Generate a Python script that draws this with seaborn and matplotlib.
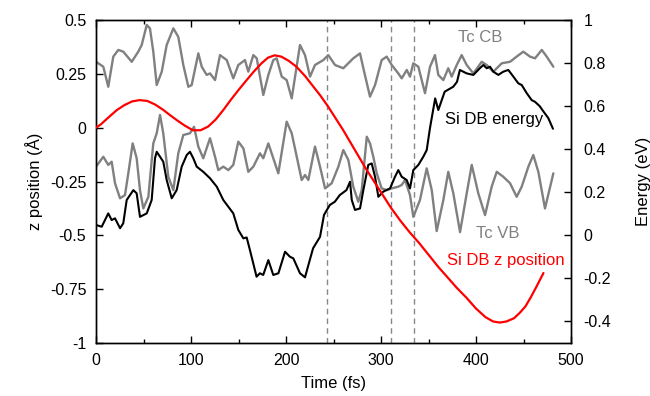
import matplotlib
matplotlib.use("Agg")
import matplotlib.pyplot as plt
import numpy as np
import pandas as pd
import seaborn as sns
from matplotlib.ticker import MultipleLocator

# Tc CB (conduction band edge), energy in eV
cb_time = [0, 7.7, 12.9, 18.2, 23.5, 28.7, 37.6, 44.5, 48.1, 53.4, 56.8, 60.3, 63.9, 69.2,
           74.4, 81.4, 86.6, 91.9, 97.2, 100.7, 107.7, 111.3, 116.5, 120, 125.3, 130.5,
           137.6, 144.5, 149.8, 156.8, 160.3, 165.6, 169.2, 176.1, 181.4, 186.6, 190.2,
           195.5, 200.7, 206, 214.7, 220, 225.3, 230.5, 239.3, 244.5, 251.6, 260.3, 270.8,
           277.9, 281.4, 288.4, 293.7, 300.7, 306, 311.3, 318.2, 321.8, 327.1, 330.5, 334,
           339.3, 346.3, 351.6, 356.8, 360.3, 365.6, 370.8, 374.4, 379.7, 384.9, 390.2,
           397.2, 406, 411.3, 418.2, 427.1, 435.8, 442.8, 449.8, 456.8, 462.1, 469.2,
           474.4, 481.4]
cb_energy = [0.806, 0.783, 0.690, 0.830, 0.861, 0.853, 0.806, 0.853, 0.884, 0.977, 0.961,
             0.853, 0.698, 0.760, 0.884, 0.961, 0.922, 0.791, 0.690, 0.698, 0.845, 0.783,
             0.745, 0.752, 0.721, 0.837, 0.814, 0.729, 0.791, 0.814, 0.760, 0.837, 0.822,
             0.652, 0.745, 0.814, 0.822, 0.737, 0.721, 0.636, 0.884, 0.837, 0.737, 0.791,
             0.814, 0.837, 0.791, 0.776, 0.822, 0.845, 0.776, 0.644, 0.698, 0.814, 0.830,
             0.791, 0.752, 0.729, 0.768, 0.737, 0.799, 0.783, 0.660, 0.783, 0.837, 0.745,
             0.721, 0.776, 0.737, 0.791, 0.837, 0.791, 0.752, 0.806, 0.791, 0.760, 0.799,
             0.806, 0.830, 0.853, 0.830, 0.822, 0.861, 0.830, 0.783]

# Tc VB (valence band edge), energy in eV
vb_time = [0, 7.7, 12.9, 16.5, 20, 25.3, 30.5, 34, 38.6, 42.8, 46.3, 49.8, 55.1, 60.3,
           63.9, 67.4, 70.8, 76.1, 81.4, 86.6, 91.9, 98.9, 103.2, 107.7, 112.9, 120,
           125.3, 128.7, 134, 139.3, 144.5, 149.8, 155.1, 160.3, 165.6, 172.6, 176.1,
           181.4, 186.6, 191.9, 200.7, 206, 211.3, 216.5, 220, 223.5, 230.5, 235.8, 241.1,
           248.1, 255.1, 260.3, 265.6, 270.8, 276.1, 279.7, 285, 288.4, 291.9, 295.5,
           300.7, 306, 311.3, 318.2, 321.8, 325.3, 330.5, 334, 341, 348.1, 353.4, 358.6,
           365.6, 370.8, 376.1, 383.2, 390.2, 395.5, 402.4, 409.5, 416.5, 421.8, 428.7,
           435.8, 442.8, 448.1, 455.1, 460.3, 465.6, 472.6, 481.4]
vb_energy = [0.319, 0.365, 0.327, 0.342, 0.242, 0.172, 0.187, 0.288, 0.427, 0.358, 0.210,
             0.125, 0.179, 0.427, 0.474, 0.559, 0.474, 0.272, 0.210, 0.381, 0.466, 0.474,
             0.504, 0.412, 0.358, 0.451, 0.365, 0.303, 0.319, 0.303, 0.327, 0.435, 0.404,
             0.295, 0.319, 0.381, 0.358, 0.427, 0.358, 0.288, 0.528, 0.474, 0.365, 0.257,
             0.280, 0.257, 0.412, 0.319, 0.218, 0.242, 0.319, 0.396, 0.350, 0.226, 0.156,
             0.210, 0.458, 0.427, 0.365, 0.288, 0.218, 0.210, 0.218, 0.226, 0.234, 0.257,
             0.187, 0.086, 0.164, 0.311, 0.210, 0.020, 0.164, 0.295, 0.195, 0.015, 0.195,
             0.327, 0.195, 0.094, 0.226, 0.295, 0.272, 0.242, 0.179, 0.226, 0.319, 0.373,
             0.295, 0.125, 0.288]

# Si DB energy, eV
db_time = [0, 6, 12.9, 16.5, 20, 25.3, 28.7, 32.3, 35.8, 39.3, 42.8, 46.3, 53.4, 58.6,
           62.1, 63.9, 67.4, 70.8, 74.4, 79.7, 84.9, 90.2, 95.5, 98.9, 102.4, 106, 112.9,
           120, 127.1, 134, 144.5, 149.8, 155.1, 158.6, 162, 169, 172.5, 176, 181.4, 186.6,
           192, 199, 204, 207.7, 214.7, 220, 225, 228.5, 235.8, 240, 246.1, 251.4, 256.6,
           263.6, 267.4, 269.2, 272.6, 277.9, 281.4, 286.6, 290.2, 293.7, 297.2, 302.4,
           309.5, 314.7, 318.2, 321.8, 327, 330.5, 334, 339.3, 344.5, 348.1, 351.6, 357,
           360.3, 367, 376, 380, 383, 390.2, 397.2, 404, 407.7, 411.3, 414.7, 418.2, 423.5,
           428.7, 434, 439.3, 444.5, 448.1, 453.4, 458.6, 462.1, 467, 471, 476, 481]
db_energy = [0.048, 0.040, 0.102, 0.071, 0.079, 0.033, 0.056, 0.164, 0.187, 0.210, 0.195,
             0.086, 0.102, 0.164, 0.358, 0.388, 0.365, 0.342, 0.257, 0.172, 0.210, 0.319,
             0.373, 0.388, 0.358, 0.319, 0.295, 0.265, 0.226, 0.164, 0.102, 0.025, -0.014,
             -0.010, -0.068, -0.192, -0.176, -0.184, -0.115, -0.184, -0.176, -0.076, -0.099,
             -0.107, -0.176, -0.195, -0.115, -0.060, -0.007, 0.095, 0.141, 0.156, 0.187,
             0.210, 0.249, 0.164, 0.118, 0.125, 0.210, 0.327, 0.334, 0.272, 0.179, 0.203,
             0.218, 0.272, 0.303, 0.272, 0.257, 0.218, 0.303, 0.327, 0.365, 0.396, 0.500,
             0.636, 0.582, 0.667, 0.690, 0.713, 0.768, 0.752, 0.745, 0.776, 0.791, 0.776,
             0.783, 0.760, 0.745, 0.760, 0.768, 0.737, 0.706, 0.698, 0.660, 0.628, 0.620,
             0.600, 0.575, 0.545, 0.495]

# Si DB z position, Angstrom
z_time = [0, 5, 10, 15, 22, 30, 38, 46, 54, 62, 70, 78, 86, 94, 102, 110, 118, 126, 134,
          142, 150, 158, 166, 174, 181, 188, 195, 203, 211, 220, 228, 236, 244, 252, 260,
          268, 276, 284, 292, 300, 310, 320, 330, 340, 350, 360, 370, 380, 390, 400, 410,
          418, 425, 432, 440, 446, 452, 458, 464, 471]
z_pos = [0.0, 0.015, 0.035, 0.055, 0.082, 0.105, 0.122, 0.128, 0.124, 0.108, 0.085, 0.058,
         0.032, 0.008, -0.012, -0.012, 0.005, 0.038, 0.082, 0.13, 0.175, 0.218, 0.26, 0.298,
         0.325, 0.336, 0.33, 0.31, 0.283, 0.24, 0.195, 0.15, 0.10, 0.045, -0.01, -0.07,
         -0.13, -0.19, -0.245, -0.3, -0.369, -0.43, -0.485, -0.535, -0.59, -0.645, -0.695,
         -0.745, -0.79, -0.84, -0.88, -0.9, -0.905, -0.9, -0.885, -0.86, -0.83, -0.785,
         -0.735, -0.675]

event_times = [243, 310, 335]

sns.set_style("ticks")
plt.rcParams["font.family"] = ["Liberation Sans", "DejaVu Sans"]
plt.rcParams["xtick.direction"] = "in"
plt.rcParams["ytick.direction"] = "in"
for key in ("text.color", "axes.labelcolor", "xtick.color", "ytick.color", "axes.edgecolor"):
    plt.rcParams[key] = "black"

fig = plt.figure(figsize=(6.5, 3.96), dpi=100)
ax = fig.add_axes([0.1477, 0.1338, 0.7308, 0.8157])
ax2 = ax.twinx()

cb_df = pd.DataFrame({"time": cb_time, "energy": cb_energy})
vb_df = pd.DataFrame({"time": vb_time, "energy": vb_energy})
db_df = pd.DataFrame({"time": db_time, "energy": db_energy})
z_df = pd.DataFrame({"time": z_time, "z": z_pos})

for t in event_times:
    ax2.axvline(t, color="#888888", lw=1.0, ls=(0, (4, 3)), zorder=1)

line_kw = dict(estimator=None, solid_joinstyle="round", solid_capstyle="round")
sns.lineplot(data=cb_df, x="time", y="energy", ax=ax2, color="#808080", lw=1.7,
             zorder=2, **line_kw)
sns.lineplot(data=vb_df, x="time", y="energy", ax=ax2, color="#808080", lw=1.7,
             zorder=2, **line_kw)
sns.lineplot(data=db_df, x="time", y="energy", ax=ax2, color="black", lw=1.5,
             zorder=3, **line_kw)
sns.lineplot(data=z_df, x="time", y="z", ax=ax, color="red", lw=1.6,
             zorder=4, **line_kw)

ax.set_zorder(ax2.get_zorder() + 1)
ax.patch.set_visible(False)

ax.set_xlim(0, 500)
ax.set_ylim(-1, 0.5)
ax2.set_ylim(-0.5, 1)
ax.xaxis.set_major_locator(MultipleLocator(100))
ax.xaxis.set_minor_locator(MultipleLocator(50))
ax.set_yticks([0.5, 0.25, 0, -0.25, -0.5, -0.75, -1])
ax.set_yticklabels(["0.5", "0.25", "0", "-0.25", "-0.5", "-0.75", "-1"])
ax2.set_yticks([-0.4, -0.2, 0, 0.2, 0.4, 0.6, 0.8, 1])
ax2.set_yticklabels(["-0.4", "-0.2", "0", "0.2", "0.4", "0.6", "0.8", "1"])

ax.tick_params(axis="x", which="major", top=True, length=5, width=1, labelsize=11.5, pad=7)
ax.tick_params(axis="x", which="minor", top=True, length=3, width=1)
ax.tick_params(axis="y", length=5, width=1, labelsize=11.5, pad=7)
ax2.tick_params(axis="y", length=5, width=1, labelsize=11.5, pad=9)

for a in (ax, ax2):
    for s in a.spines.values():
        s.set_linewidth(1.0)
        s.set_color("black")

ax.set_xlabel("Time (fs)", fontsize=12, labelpad=6)
ax.set_ylabel("z position (Å)", fontsize=12, labelpad=5)
ax2.set_ylabel("Energy (eV)", fontsize=12, labelpad=18)

ax2.text(404, 0.921, "Tc CB", color="#808080", fontsize=12, ha="center", va="center")
ax2.text(419, 0.537, "Si DB energy", color="black", fontsize=12, ha="center", va="center")
ax2.text(423, 0.01, "Tc VB", color="#808080", fontsize=12, ha="center", va="center")
ax2.text(431, -0.115, "Si DB z position", color="red", fontsize=12, ha="center", va="center")

fig.savefig("out.png", dpi=100)
